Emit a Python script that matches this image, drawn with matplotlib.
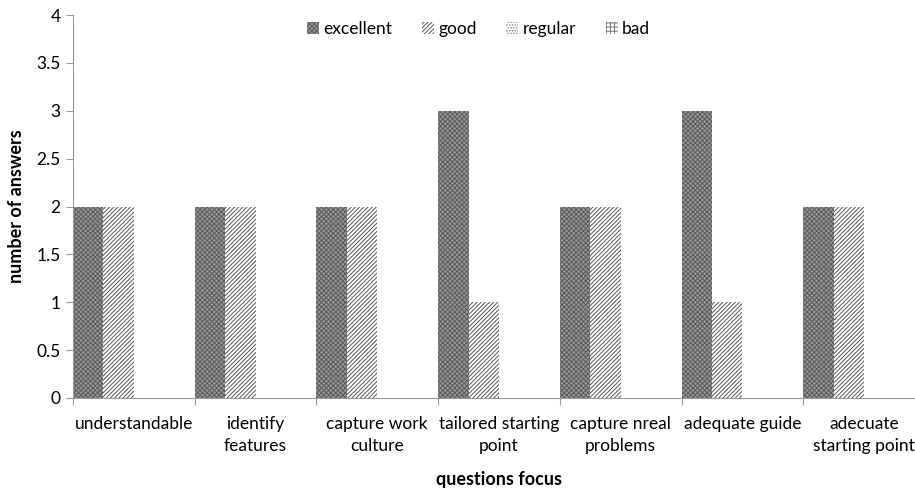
import numpy as np
import matplotlib
matplotlib.use("Agg")
import matplotlib.pyplot as plt

plt.rcParams['font.family'] = ['Lato', 'DejaVu Sans']
plt.rcParams['hatch.linewidth'] = 0.7

categories = ["understandable", "identify\nfeatures", "capture work\nculture",
              "tailored starting\npoint", "capture nreal\nproblems",
              "adequate guide", "adecuate\nstarting point"]
excellent = [2, 2, 2, 3, 2, 3, 2]
good = [2, 2, 2, 1, 2, 1, 2]
regular = [0, 0, 0, 0, 0, 0, 0]
bad = [0, 0, 0, 0, 0, 0, 0]

series = [
    ("excellent", excellent, "#969696", "xxxxxxx", "#5c5c5c"),
    ("good", good, "white", "////////", "#555555"),
    ("regular", regular, "white", "......", "#888888"),
    ("bad", bad, "white", "++++", "#777777"),
]

fig = plt.figure(figsize=(9.15, 4.92), dpi=100)
ax = fig.add_axes([73 / 915, 1 - 398 / 492, 7 * 121.7 / 915, (398 - 15) / 492])

x = np.arange(len(categories))
w = 0.25
for i, (name, vals, fc, hatch, ec) in enumerate(series):
    ax.bar(x + i * w, vals, width=w, align="edge", color=fc, hatch=hatch,
           edgecolor=ec, linewidth=0, label=name)

ax.set_xlim(0, len(categories))
ax.set_ylim(0, 4)
ax.set_yticks(np.arange(0, 4.01, 0.5))
ax.set_yticklabels(["0", "0.5", "1", "1.5", "2", "2.5", "3", "3.5", "4"])
ax.set_xticks(x)
ax.set_xticklabels([])
ax.set_xticks(x + 0.5, minor=True)
ax.set_xticklabels(categories, minor=True, fontsize=12.5, linespacing=1.45)
ax.tick_params(axis="x", which="minor", length=0, pad=13)
ax.tick_params(axis="x", which="major", length=5, color="#999999")
ax.tick_params(axis="y", length=5, color="#999999", labelsize=12.5, pad=4)

for s in ["top", "right"]:
    ax.spines[s].set_visible(False)
for s in ["left", "bottom"]:
    ax.spines[s].set_color("#999999")

ax.set_ylabel("number of answers", fontsize=13, fontweight="bold", labelpad=8)
ax.set_xlabel("questions focus", fontsize=13, fontweight="bold", labelpad=12)

ax.legend(loc="upper center", bbox_to_anchor=(0.476, 1.025), ncol=4, frameon=False,
          fontsize=12.5, handlelength=0.7, handleheight=0.7, handletextpad=0.25,
          columnspacing=1.7)

fig.savefig("out.png", dpi=100)
